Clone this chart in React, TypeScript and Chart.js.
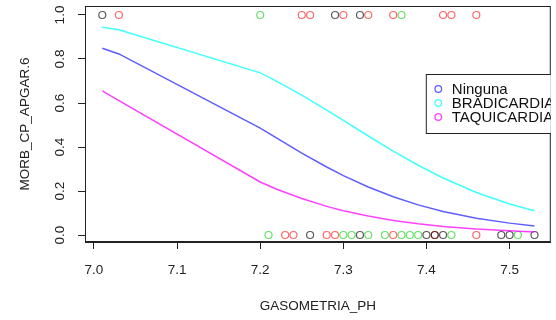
import React, { useEffect, useRef } from "react";
import { Chart, registerables } from "chart.js";

Chart.register(...registerables);

// Fitted curves
const curvePH = [7.01, 7.03, 7.2, 7.22, 7.25, 7.28, 7.3, 7.33, 7.36, 7.39, 7.42, 7.46, 7.5, 7.53];
const ninguna = [0.849, 0.823, 0.486, 0.44, 0.372, 0.309, 0.27, 0.218, 0.174, 0.137, 0.107, 0.076, 0.054, 0.041];
const bradicardia = [0.944, 0.933, 0.737, 0.698, 0.636, 0.568, 0.521, 0.45, 0.381, 0.317, 0.259, 0.193, 0.141, 0.11];
const taquicardia = [0.655, 0.611, 0.241, 0.208, 0.166, 0.13, 0.11, 0.086, 0.066, 0.051, 0.039, 0.027, 0.019, 0.014];

// Observed points: outcome = 1
const black1 = [7.01, 7.29, 7.32];
const red1 = [7.03, 7.25, 7.26, 7.3, 7.33, 7.36, 7.42, 7.43, 7.46];
const green1 = [7.2, 7.37];
// Observed points: outcome = 0
const black0 = [7.26, 7.32, 7.4, 7.41, 7.42, 7.49, 7.5, 7.53];
const red0 = [7.23, 7.24, 7.28, 7.29, 7.36, 7.41, 7.46];
const green0 = [7.21, 7.3, 7.31, 7.33, 7.35, 7.37, 7.38, 7.39, 7.43, 7.51];

const xTicks = [7.0, 7.1, 7.2, 7.3, 7.4, 7.5];
const yTicks = [0.0, 0.2, 0.4, 0.6, 0.8, 1.0];

const FONT = "'Liberation Sans', Arial, Helvetica, sans-serif";

const pts = (xs: number[], y: number) => xs.map((x) => ({ x, y }));
const curve = (ys: number[]) => curvePH.map((x, i) => ({ x, y: ys[i] }));

const boxPlugin = {
  id: "rbox",
  afterDraw(chart: any) {
    const { ctx, chartArea: ca } = chart;
    ctx.save();
    ctx.strokeStyle = "#222";
    ctx.lineWidth = 1;
    ctx.strokeRect(ca.left + 0.5, ca.top + 0.5, ca.right - ca.left - 1, ca.bottom - ca.top - 1);
    // legend (clipped to plot region)
    ctx.beginPath();
    ctx.rect(ca.left, ca.top, ca.right - ca.left, ca.bottom - ca.top);
    ctx.clip();
    const lx = ca.right - 125;
    const ly = ca.top + 68;
    ctx.fillStyle = "#fff";
    ctx.fillRect(lx, ly, 200, 59);
    ctx.strokeRect(lx + 0.5, ly + 0.5, 200, 59);
    const lineSets = chart.data.datasets.filter((d: any) => d.showLine);
    ctx.font = `15px ${FONT}`;
    ctx.textBaseline = "middle";
    ctx.textAlign = "left";
    lineSets.forEach((d: any, i: number) => {
      const cy = ly + 15 + i * 14;
      ctx.beginPath();
      ctx.arc(lx + 12.5, cy, 3.3, 0, Math.PI * 2);
      ctx.strokeStyle = d.borderColor;
      ctx.lineWidth = 1.3;
      ctx.stroke();
      ctx.fillStyle = "#111";
      ctx.fillText(d.label, lx + 26, cy + 0.5);
    });
    ctx.restore();
  },
};

export default function App() {
  const ref = useRef<HTMLCanvasElement>(null);
  useEffect(() => {
    const canvas = ref.current!;
    const pointBase = { showLine: false, pointRadius: 3.5, pointBorderWidth: 1.2, pointBackgroundColor: "rgba(0,0,0,0)" };
    const lineBase = { showLine: true, pointRadius: 0, borderWidth: 1.5, tension: 0, fill: false };
    const chart = new Chart(canvas, {
      type: "scatter",
      data: {
        datasets: [
          { ...lineBase, label: "Ninguna", data: curve(ninguna), borderColor: "rgba(40,40,255,0.75)" },
          { ...lineBase, label: "BRADICARDIA", data: curve(bradicardia), borderColor: "rgba(0,255,255,0.75)" },
          { ...lineBase, label: "TAQUICARDIA", data: curve(taquicardia), borderColor: "rgba(255,0,255,0.75)" },
          { ...pointBase, label: "g1", data: pts(black1, 1), pointBorderColor: "rgba(0,0,0,0.65)" },
          { ...pointBase, label: "g2", data: pts(red1, 1), pointBorderColor: "rgba(255,0,0,0.6)" },
          { ...pointBase, label: "g3", data: pts(green1, 1), pointBorderColor: "rgba(0,205,0,0.6)" },
          { ...pointBase, label: "g1b", data: pts(black0, 0), pointBorderColor: "rgba(0,0,0,0.65)" },
          { ...pointBase, label: "g2b", data: pts(red0, 0), pointBorderColor: "rgba(255,0,0,0.6)" },
          { ...pointBase, label: "g3b", data: pts(green0, 0), pointBorderColor: "rgba(0,205,0,0.6)" },
        ] as any,
      },
      options: {
        responsive: false,
        animation: false,
        devicePixelRatio: 1,
        layout: { padding: { top: 6, right: 4, left: 0, bottom: 0 } },
        plugins: { legend: { display: false }, tooltip: { enabled: false } },
        scales: {
          x: {
            type: "linear",
            min: 6.9892,
            max: 7.5496,
            afterFit: (s: any) => { s.height = 78; s.paddingLeft = 0; s.paddingRight = 0; },
            afterBuildTicks: (s: any) => { s.ticks = xTicks.map((v) => ({ value: v })); },
            grid: { drawOnChartArea: false, drawTicks: true, tickLength: 7, color: "#222", lineWidth: 1 },
            border: { display: true, color: "#222" },
            ticks: {
              color: "#222",
              font: { family: FONT, size: 13.5 },
              padding: 13,
              maxRotation: 0,
              minRotation: 0,
              callback: (v: any) => Number(v).toFixed(1),
            },
            title: {
              display: true,
              text: "GASOMETRIA_PH",
              color: "#222",
              font: { family: FONT, size: 13.5 },
              padding: { top: 0, bottom: 6 },
            },
          },
          y: {
            type: "linear",
            min: -0.0318,
            max: 1.0409,
            afterFit: (s: any) => { s.width = 85; s.paddingTop = 0; s.paddingBottom = 0; },
            afterBuildTicks: (s: any) => { s.ticks = yTicks.map((v) => ({ value: v })); },
            grid: { drawOnChartArea: false, drawTicks: true, tickLength: 7, color: "#222", lineWidth: 1 },
            border: { display: true, color: "#222" },
            ticks: {
              color: "#222",
              font: { family: FONT, size: 13.5 },
              padding: 8.5,
              minRotation: 90,
              maxRotation: 90,
              crossAlign: "center",
              callback: (v: any) => Number(v).toFixed(1),
            },
            title: {
              display: true,
              text: "MORB_CP_APGAR.6",
              color: "#222",
              font: { family: FONT, size: 13.5 },
              padding: { top: 17, bottom: 0 },
            },
          },
        },
      },
      plugins: [boxPlugin],
    });
    return () => chart.destroy();
  }, []);
  return (
    <div style={{ position: "absolute", left: 0, top: 0, width: 556, height: 320, background: "#fff" }}>
      <canvas ref={ref} width={556} height={320} style={{ display: "block", width: 556, height: 320 }} />
    </div>
  );
}
